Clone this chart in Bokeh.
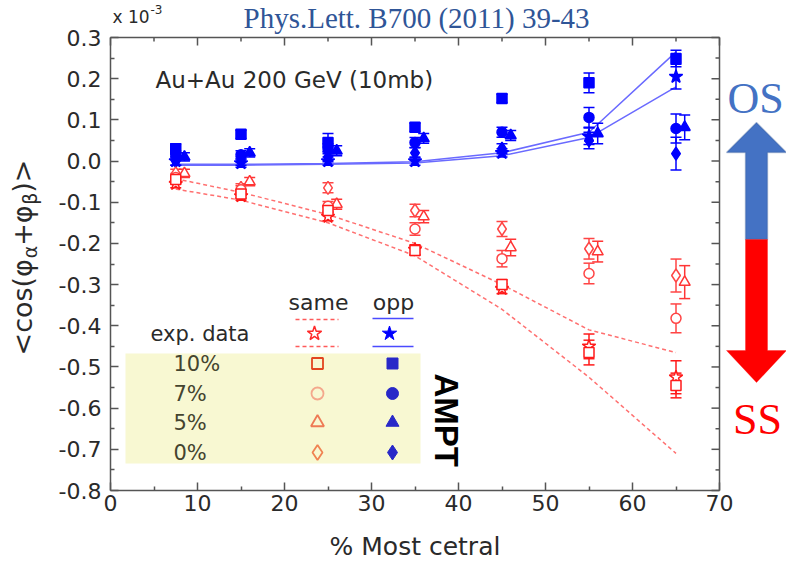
import math
from bokeh.plotting import figure
from bokeh.models import (Range1d, FixedTicker, Label, PolyAnnotation,
                          BoxAnnotation, NumeralTickFormatter)
from bokeh.embed import file_html
from bokeh.resources import INLINE

# ------------------------------------------------------------------ data
centrality = [7.5, 15, 25, 35, 45, 55, 65]
centrality_tri = [8.5, 16, 26, 36, 46, 56, 66]

# AMPT same-charge (open red markers)
same_10 = [-0.045, -0.080, -0.120, -0.217, -0.300, -0.465, -0.545]
same_10_err = [0.010, 0.010, 0.012, 0.012, 0.012, 0.030, 0.030]
same_7 = [-0.040, -0.070, -0.110, -0.165, -0.237, -0.273, -0.382]
same_7_err = [0.010, 0.010, 0.012, 0.015, 0.020, 0.025, 0.035]
same_5 = [-0.030, -0.050, -0.105, -0.135, -0.210, -0.220, -0.294]
same_5_err = [0.010, 0.010, 0.012, 0.015, 0.020, 0.025, 0.040]
same_0 = [-0.030, -0.065, -0.065, -0.120, -0.165, -0.213, -0.278]
same_0_err = [0.010, 0.010, 0.012, 0.015, 0.018, 0.025, 0.040]

# AMPT opposite-charge (filled blue markers)
opp_10 = [0.030, 0.065, 0.045, 0.082, 0.152, 0.190, 0.249]
opp_10_err = [0.012, 0.010, 0.022, 0.010, 0.010, 0.024, 0.020]
opp_7 = [0.015, 0.015, 0.030, 0.045, 0.070, 0.106, 0.079]
opp_7_err = [0.010, 0.010, 0.012, 0.012, 0.012, 0.024, 0.035]
opp_5 = [0.010, 0.020, 0.025, 0.055, 0.062, 0.067, 0.082]
opp_5_err = [0.010, 0.010, 0.012, 0.012, 0.012, 0.025, 0.030]
opp_0 = [0.000, 0.000, 0.010, 0.020, 0.030, 0.050, 0.018]
opp_0_err = [0.010, 0.010, 0.012, 0.012, 0.012, 0.020, 0.040]

# experimental data (stars) and their bands
exp_same = [-0.055, -0.085, -0.135, -0.215, -0.310, -0.450, -0.525]
exp_same_err = [0.010, 0.010, 0.010, 0.012, 0.012, 0.030, 0.040]
exp_opp = [0.000, -0.005, 0.000, 0.000, 0.020, 0.060, 0.205]
exp_opp_err = [0.010, 0.010, 0.010, 0.010, 0.010, 0.020, 0.030]
band_same_hi = [-0.043, -0.076, -0.130, -0.200, -0.300, -0.410, -0.465]
band_same_lo = [-0.068, -0.095, -0.150, -0.230, -0.360, -0.525, -0.710]
band_opp_hi = [-0.008, -0.008, -0.006, -0.002, 0.020, 0.070, 0.265]
band_opp_lo = [-0.010, -0.010, -0.008, -0.005, 0.013, 0.057, 0.180]

x_ticks = [0, 10, 20, 30, 40, 50, 60, 70]
y_ticks = [-0.8, -0.7, -0.6, -0.5, -0.4, -0.3, -0.2, -0.1, 0.0, 0.1, 0.2, 0.3]
legend_rows = ["10%", "7%", "5%", "0%"]

# ------------------------------------------------------------------ layout
W, H = 786, 562
FL, FR, FT, FB = 110, 719, 37, 490   # plot box edges (page pixels)
X0, X1, Y0, Y1 = 0, 70, -0.8, 0.3


def dx(px):
    return X0 + (px - FL) * (X1 - X0) / (FR - FL)


def dy(py):
    return Y1 - (py - FT) * (Y1 - Y0) / (FB - FT)


TXT = "#2a2a2a"
AX = "#555555"
FONT = "DejaVu Sans"

# the drawing area covers the whole canvas; the axes sit at fixed locations
p = figure(width=W, height=H, x_range=Range1d(dx(0), dx(W)), y_range=Range1d(dy(H), dy(0)),
           output_backend="svg", toolbar_location=None,
           min_border=0, min_border_left=0, min_border_right=0,
           min_border_top=0, min_border_bottom=0)
p.background_fill_color = "white"
p.border_fill_color = "white"
p.xgrid.visible = False
p.ygrid.visible = False
p.outline_line_color = None

x_minor = [v + 5 for v in x_ticks[:-1]]
y_minor = [round(v + 0.05, 3) for v in y_ticks[:-1]]


def style_axis(ax):
    ax.axis_line_color = AX
    ax.axis_line_width = 1.5
    ax.major_tick_line_color = AX
    ax.minor_tick_line_color = AX
    ax.major_tick_line_width = 1.5
    ax.minor_tick_line_width = 1.5
    ax.major_tick_in = 8
    ax.major_tick_out = 0
    ax.minor_tick_in = 4
    ax.minor_tick_out = 0
    ax.major_label_text_font = FONT
    ax.major_label_text_color = TXT
    ax.major_label_text_font_size = "22px"


xa = p.xaxis[0]
ya = p.yaxis[0]
xa.ticker = FixedTicker(ticks=x_ticks, minor_ticks=x_minor)
ya.ticker = FixedTicker(ticks=y_ticks, minor_ticks=y_minor)
ya.formatter = NumeralTickFormatter(format="0.0")
style_axis(xa)
style_axis(ya)
xa.fixed_location = Y0
xa.bounds = (X0, X1)
ya.fixed_location = X0
ya.bounds = (Y0, Y1)
xa.major_label_standoff = 4
ya.major_label_standoff = 9

# top and right edges of the box with inward ticks
p.segment(x0=[X0, X1], y0=[Y1, Y0], x1=[X1, X1], y1=[Y1, Y1], line_color=AX, line_width=1.5)
tick_top_major = dy(FT + 8)
tick_top_minor = dy(FT + 4)
p.segment(x0=x_ticks, y0=[Y1] * len(x_ticks), x1=x_ticks, y1=[tick_top_major] * len(x_ticks),
          line_color=AX, line_width=1.5)
p.segment(x0=x_minor, y0=[Y1] * len(x_minor), x1=x_minor, y1=[tick_top_minor] * len(x_minor),
          line_color=AX, line_width=1.5)
p.segment(x0=[X1] * len(y_ticks), y0=y_ticks, x1=[dx(FR - 8)] * len(y_ticks), y1=y_ticks,
          line_color=AX, line_width=1.5)
p.segment(x0=[X1] * len(y_minor), y0=y_minor, x1=[dx(FR - 4)] * len(y_minor), y1=y_minor,
          line_color=AX, line_width=1.5)

# legend background box
p.add_layout(BoxAnnotation(left=dx(125), right=dx(420), top=dy(353), bottom=dy(463),
                           fill_color="#f8f8d2", fill_alpha=1.0, line_color=None,
                           level="underlay"))

RED = "#ff1a1a"
BLUE = "#0000ff"

# experimental bands
p.line(centrality, band_opp_hi, line_color="#6a6aff", line_width=1.5)
p.line(centrality, band_opp_lo, line_color="#6a6aff", line_width=1.5)
p.line(centrality, band_same_hi, line_color="#ff7070", line_width=1.5, line_dash="4 3")
p.line(centrality, band_same_lo, line_color="#ff7070", line_width=1.5, line_dash="4 3")


def errbars(x, y, e, color):
    lo = [v - d for v, d in zip(y, e)]
    hi = [v + d for v, d in zip(y, e)]
    p.segment(x0=x, y0=lo, x1=x, y1=hi, line_color=color, line_width=1.5)
    p.scatter(x=list(x) + list(x), y=lo + hi, marker="dash", size=11,
              line_color=color, line_width=1.5)


series = [
    (centrality, exp_opp, exp_opp_err, "star", 14, BLUE, True),
    (centrality, opp_0, opp_0_err, "diamond", 13, BLUE, True),
    (centrality_tri, opp_5, opp_5_err, "triangle", 11, BLUE, True),
    (centrality, opp_7, opp_7_err, "circle", 10, BLUE, True),
    (centrality, opp_10, opp_10_err, "square", 10, BLUE, True),
    (centrality, exp_same, exp_same_err, "star", 14, RED, False),
    (centrality, same_0, same_0_err, "diamond", 13, "#ff4545", False),
    (centrality_tri, same_5, same_5_err, "triangle", 11, "#ff3535", False),
    (centrality, same_7, same_7_err, "circle", 10, "#ff4545", False),
    (centrality, same_10, same_10_err, "square", 10, RED, False),
]
for x, y, e, m, s, c, filled in series:
    errbars(x, y, e, c)
for x, y, e, m, s, c, filled in series:
    p.scatter(x=x, y=y, marker=m, size=s, line_color=c, line_width=1.5,
              fill_color=c if filled else "white", fill_alpha=1.0)

# ------------------------------------------------------------------ texts


def label(px, py, text, size, color=TXT, font=FONT, align="left",
          baseline="middle", angle=0.0, style="normal"):
    p.add_layout(Label(x=dx(px), y=dy(py), text=text, text_font=font,
                       text_font_size=f"{size}px", text_color=color,
                       text_align=align, text_baseline=baseline, angle=angle,
                       text_font_style=style))


# legend
label(318, 302, "same", 22, align="center")
label(393, 302, "opp", 22, align="center")
label(150, 333, "exp. data", 21)
row_y = [363, 393, 422, 452]
for ry, t in zip(row_y, legend_rows):
    label(173, ry, t, 21, color="#44442f")

p.line([dx(295), dx(338)], [dy(319), dy(319)], line_color="#ff5a5a", line_width=1.5, line_dash="4 3")
p.line([dx(295), dx(338)], [dy(346), dy(346)], line_color="#ff5a5a", line_width=1.5, line_dash="4 3")
p.line([dx(372), dx(413)], [dy(318), dy(318)], line_color="#4a4aff", line_width=1.5)
p.line([dx(372), dx(413)], [dy(346), dy(346)], line_color="#4a4aff", line_width=1.5)
p.scatter(x=[dx(314)], y=[dy(333)], marker="star", size=15, line_color="#ff2a2a",
          line_width=1.5, fill_color="white")
p.scatter(x=[dx(389)], y=[dy(333)], marker="star", size=15, line_color=BLUE,
          fill_color=BLUE)

leg_markers = ["square", "circle", "triangle", "diamond"]
leg_red = ["#e2451f", "#f4a88c", "#ee7a55", "#f08352"]
leg_size = [11, 12, 13, 15]
for ry, m, c, s in zip(row_y, leg_markers, leg_red, leg_size):
    p.scatter(x=[dx(317)], y=[dy(ry)], marker=m, size=s, line_color=c,
              line_width=1.8, fill_color="#f8f8d2")
    p.scatter(x=[dx(392)], y=[dy(ry)], marker=m, size=s, line_color="#2828c8",
              fill_color="#2828c8")

# AMPT vertical bold
label(446, 373, "AMPT", 33, color="black", font="Liberation Sans",
      angle=-math.pi / 2, style="bold")

# in-plot annotation
label(155, 79, "Au+Au 200 GeV (10mb)", 23)

# axis titles
label((FL + FR) / 2, 546, "% Most cetral", 25, align="center")

yl_font = 27
segs = [("<cos(φ", 1.0, 3.60), ("α", 0.7, 0.66), ("+φ", 1.0, 1.52),
        ("β", 0.7, 0.64), (")>", 1.0, 1.228)]
total = sum(sc * w for _, sc, w in segs) * yl_font
pos = 257 + total / 2
for t, sc, w in segs:
    fs = yl_font * sc
    shift = 0 if sc == 1.0 else yl_font * 0.26
    label(22 + shift, pos, t, round(fs, 1), angle=math.pi / 2)
    pos -= fs * w

# x 10^-3 multiplier
label(112, 16, "x 10", 17)
label(150, 9, "-3", 12)

# citation title
label(243, 17, "Phys.Lett. B700 (2011) 39-43", 29, color="#2f5597", font="Liberation Serif")

# OS / SS arrows
p.add_layout(PolyAnnotation(
    xs=[dx(756), dx(726), dx(745), dx(745), dx(767), dx(767), dx(786)],
    ys=[dy(122), dy(152), dy(152), dy(239), dy(239), dy(152), dy(152)],
    fill_color="#4472c4", fill_alpha=1.0, line_color="#2f528f", line_width=1.5))
p.add_layout(PolyAnnotation(
    xs=[dx(745), dx(767), dx(767), dx(786), dx(756), dx(726), dx(745)],
    ys=[dy(239), dy(239), dy(350), dy(350), dy(382), dy(350), dy(350)],
    fill_color="#ff0000", fill_alpha=1.0, line_color="#ff0000", line_width=1))
label(755, 98, "OS", 44, color="#4472c4", font="Liberation Serif", align="center")
label(757, 419, "SS", 44, color="#ff0000", font="Liberation Serif", align="center")

open("out.html", "w").write(file_html(p, INLINE))
